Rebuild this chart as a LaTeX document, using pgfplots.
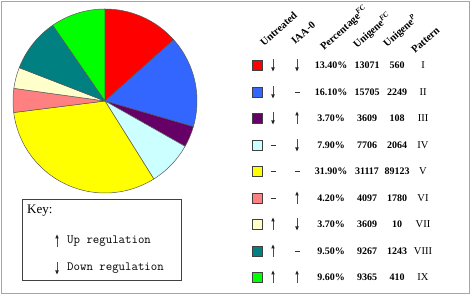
\documentclass[border=0pt]{standalone}
\usepackage{pgfplots}
\pgfplotsset{compat=1.18}
\usepgfplotslibrary{polar}
\usepackage{fontspec}
\setmainfont{Liberation Serif}
\definecolor{cRed}{HTML}{FF0000}
\definecolor{cBlue}{HTML}{3366FF}
\definecolor{cPurple}{HTML}{660066}
\definecolor{cCyan}{HTML}{CCFFFF}
\definecolor{cYellow}{HTML}{FFFF00}
\definecolor{cPink}{HTML}{FF8080}
\definecolor{cLYellow}{HTML}{FFFFCC}
\definecolor{cTeal}{HTML}{008080}
\definecolor{cGreen}{HTML}{00FF00}
% #1 cumulative start (%), #2 share (%), #3 colour
\newcommand{\slice}[3]{\addplot[fill=#3, draw=black!65, line width=0.5pt, domain=90-3.6*(#1+#2):90-3.6*(#1), samples=80] {1} -- (axis cs:0,0) -- cycle;}
% #1 type (0 dash, 1 up, 2 down), #2 x, #3 y
\newcommand{\sym}[3]{\ifcase#1\relax
  \draw[line width=0.8pt, black!80] (#2-2.5,#3) -- (#2+2.5,#3);\or
  \draw[line width=0.7pt, black!70] (#2,#3+6) -- (#2,#3-3);
  \fill[black!85] (#2-1.8,#3-2.5) -- (#2+1.8,#3-2.5) -- (#2,#3-6.5) -- cycle;\or
  \draw[line width=0.7pt, black!70] (#2,#3-6) -- (#2,#3+3);
  \fill[black!85] (#2-1.8,#3+2.5) -- (#2+1.8,#3+2.5) -- (#2,#3+6.5) -- cycle;\fi}
\begin{document}
\begin{tikzpicture}[x=1pt,y=-1pt]
\useasboundingbox (0,0) rectangle (472,296);
\draw[gray!70, line width=1.5pt] (1.5,1.5) rectangle (469.5,293.5);
\begin{polaraxis}[at={(105pt,-101pt)}, anchor=center, scale only axis, width=184pt, height=184pt,
  ymin=0, ymax=1, hide axis, clip=false]
\slice{0}{13.4}{cRed}
\slice{13.4}{16.1}{cBlue}
\slice{29.5}{3.7}{cPurple}
\slice{33.2}{7.9}{cCyan}
\slice{41.1}{31.9}{cYellow}
\slice{73.0}{4.2}{cPink}
\slice{77.2}{3.7}{cLYellow}
\slice{80.9}{9.5}{cTeal}
\slice{90.4}{9.6}{cGreen}
\end{polaraxis}
% headers
\begin{scope}[every node/.style={rotate=42, anchor=base west, inner sep=0pt, font=\bfseries\fontsize{10.5}{12}\selectfont}]
\node at (264pt,-47pt) {Untreated};
\node at (295pt,-45pt) {IAA-0};
\node at (324pt,-51pt) {Percentage\textsuperscript{\textit{FC}}};
\node at (357pt,-49pt) {Unigene\textsuperscript{\textit{FC}}};
\node at (387pt,-48pt) {Unigene\textsuperscript{\textit{P}}};
\node at (415pt,-54pt) {Pattern};
\end{scope}
% rows
\foreach \y/\c/\u/\i/\p/\f/\q/\r in {
  65/cRed/2/2/13.40/13071/560/I,
  92/cBlue/2/0/16.10/15705/2249/II,
  118/cPurple/2/1/3.70/3609/108/III,
  145/cCyan/0/2/7.90/7706/2064/IV,
  171/cYellow/0/0/31.90/31117/89123/V,
  198/cPink/0/1/4.20/4097/1780/VI,
  224/cLYellow/1/2/3.70/3609/10/VII,
  251/cTeal/1/0/9.50/9267/1243/VIII,
  277/cGreen/1/1/9.60/9365/410/IX} {
  \fill[\c, draw=black!75, line width=0.6pt] (252,\y-5) rectangle (262,\y+5);
  \sym{\u}{273}{\y}
  \sym{\i}{297}{\y}
  \node[font=\bfseries\fontsize{10}{12}\selectfont] at (331,\y) {\p\%};
  \node[font=\bfseries\fontsize{10}{12}\selectfont] at (367,\y) {\f};
  \node[font=\bfseries\fontsize{10}{12}\selectfont] at (397,\y) {\q};
  \node[font=\fontsize{10.5}{12}\selectfont] at (423,\y) {\r};
}
% key
\draw[black!75, line width=0.8pt] (22,199) rectangle (181,280);
\node[anchor=west, inner sep=0pt, font=\fontsize{13}{15}\selectfont] at (27,211) {Key:};
\sym{1}{57}{241}
\sym{2}{57}{268}
\node[anchor=west, inner sep=0pt, font=\ttfamily\fontsize{12.5}{14}\selectfont] at (67,241) {Up regulation};
\node[anchor=west, inner sep=0pt, font=\ttfamily\fontsize{12.5}{14}\selectfont] at (67,268) {Down regulation};
\end{tikzpicture}
\end{document}
